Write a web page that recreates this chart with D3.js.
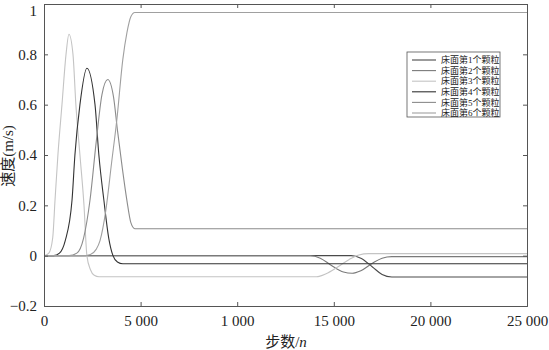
<!DOCTYPE html>
<html>
<head>
<meta charset="utf-8">
<script src="https://cdn.jsdelivr.net/npm/d3@7"></script>
<style>
  body { margin: 0; background: #fff; }
  svg text { font-family: "Times New Roman", "Liberation Serif", "Noto Sans CJK SC", serif; fill: #222; }
</style>
</head>
<body>
<div id="chart"></div>
<script>
// x ticks and their printed labels (the original prints "1 000" at 10 000)
const xTicks = [0, 5000, 10000, 15000, 20000, 25000];
const xTickLabels = ['0', '5 000', '1 000', '15 000', '20 000', '25 000'];
const yTicks = [1, 0.8, 0.6, 0.4, 0.2, 0, -0.2];
const yTickLabels = ['1', '0.8', '0.6', '0.4', '0.2', '0', '\u22120.2'];

const seriesNames = ['床面第1个颗粒', '床面第2个颗粒', '床面第3个颗粒', '床面第4个颗粒', '床面第5个颗粒', '床面第6个颗粒'];

// [step, velocity] pairs
const s1 = [[0,0],[15900,0],[16400,-0.01],[17000,-0.045],[17500,-0.075],[18000,-0.085],[25000,-0.085]];
const s2 = [[0,0],[13800,0],[14300,-0.01],[14900,-0.04],[15500,-0.065],[15950,-0.07],[16400,-0.06],[17000,-0.03],[17500,-0.01],[18000,-0.004],[25000,-0.004]];
const s3 = [[0,0],[250,0.01],[450,0.07],[570,0.22],[720,0.4],[930,0.6],[1140,0.8],[1290,0.88],[1500,0.8],[1650,0.6],[1860,0.4],[2070,0.2],[2220,0],[2400,-0.055],[2600,-0.078],[2850,-0.084],[14100,-0.084],[14600,-0.072],[15200,-0.045],[15800,-0.015],[16300,0.003],[16800,0.008],[25000,0.008]];
const s4 = [[0,0],[500,0],[800,0.01],[1100,0.06],[1450,0.22],[1600,0.4],[1860,0.6],[2220,0.745],[2640,0.6],[2840,0.4],[3100,0.22],[3350,0.07],[3570,0],[3800,-0.025],[4080,-0.032],[25000,-0.032]];
const s5 = [[0,0],[1300,0],[1700,0.01],[2050,0.07],[2380,0.22],[2700,0.45],[3000,0.64],[3300,0.70],[3600,0.63],[3800,0.5],[4050,0.35],[4290,0.22],[4500,0.13],[4700,0.107],[25000,0.107]];
const s6 = [[0,0],[2000,0],[2400,0.005],[2700,0.025],[2900,0.06],[3200,0.18],[3500,0.37],[3770,0.54],[4080,0.78],[4290,0.885],[4500,0.95],[4700,0.966],[25000,0.966]];

const seriesData = [s1, s2, s3, s4, s5, s6];
const seriesColors = ['#4a4a4a', '#7a7a7a', '#c4c4c4', '#333333', '#8c8c8c', '#a0a0a0'];

const width = 549, height = 350;
const margin = { top: 4, right: 22, bottom: 44, left: 44 };
const innerW = width - margin.left - margin.right;
const innerH = height - margin.top - margin.bottom;

const svg = d3.select('#chart').append('svg')
  .attr('width', width)
  .attr('height', height);

const g = svg.append('g').attr('transform', `translate(${margin.left},${margin.top})`);

const x = d3.scaleLinear().domain([0, 25000]).range([0, innerW]);
const y = d3.scaleLinear().domain([-0.2, 1]).range([innerH, 0]);

// Lines
const line = d3.line()
  .x(d => x(d[0]))
  .y(d => y(d[1]))
  .curve(d3.curveMonotoneX);

g.selectAll('path.series')
  .data(seriesData)
  .join('path')
  .attr('class', 'series')
  .attr('fill', 'none')
  .attr('stroke', (d, i) => seriesColors[i])
  .attr('stroke-width', 1.1)
  .attr('d', line);

// Axes, ticks pointing inward on all four sides
const axisColor = '#555';
const xAxis = d3.axisBottom(x).tickValues(xTicks).tickSize(-4).tickPadding(9)
  .tickFormat((d, i) => xTickLabels[i]);
const yAxis = d3.axisLeft(y).tickValues(yTicks).tickSize(-4).tickPadding(7)
  .tickFormat((d, i) => yTickLabels[i]);

const gx = g.append('g').attr('transform', `translate(0,${innerH})`).call(xAxis);
const gy = g.append('g').call(yAxis);
const gxt = g.append('g').call(d3.axisTop(x).tickValues(xTicks).tickSize(-4).tickFormat(''));
const gyr = g.append('g').attr('transform', `translate(${innerW},0)`)
  .call(d3.axisRight(y).tickValues(yTicks).tickSize(-4).tickFormat(''));

[gx, gy, gxt, gyr].forEach(a => {
  a.attr('font-family', null);
  a.select('.domain').attr('stroke', axisColor);
  a.selectAll('.tick line').attr('stroke', axisColor);
  a.selectAll('.tick text')
    .style('font-family', '"Times New Roman", "Liberation Serif", serif')
    .style('font-size', '15px')
    .attr('fill', '#222');
});

// the top label sits just under the frame so it is not clipped
gy.selectAll('.tick text').filter(d => d === 1).attr('dy', '0.75em');

// Axis titles
svg.append('text')
  .attr('transform', `translate(13,156) rotate(-90)`)
  .attr('text-anchor', 'middle')
  .style('font-size', '15px')
  .text('速度(m/s)');

const xt = svg.append('text')
  .attr('x', 286)
  .attr('y', 347)
  .attr('text-anchor', 'middle')
  .style('font-size', '15px');
xt.append('tspan').text('步数/');
xt.append('tspan').style('font-style', 'italic').text('n');

// Legend
const lg = svg.append('g').attr('transform', 'translate(407,52)');
lg.append('rect')
  .attr('width', 93)
  .attr('height', 65)
  .attr('fill', '#fff')
  .attr('stroke', '#555')
  .attr('stroke-width', 0.8);

const rows = lg.selectAll('g.row')
  .data(seriesNames)
  .join('g')
  .attr('class', 'row')
  .attr('transform', (d, i) => `translate(0,${8 + i * 10.6})`);

rows.append('line')
  .attr('x1', 5).attr('x2', 29)
  .attr('stroke', (d, i) => seriesColors[i])
  .attr('stroke-width', 1.1);

rows.append('text')
  .attr('x', 34)
  .attr('dy', '0.35em')
  .style('font-size', '9px')
  .text(d => d);
</script>
</body>
</html>
